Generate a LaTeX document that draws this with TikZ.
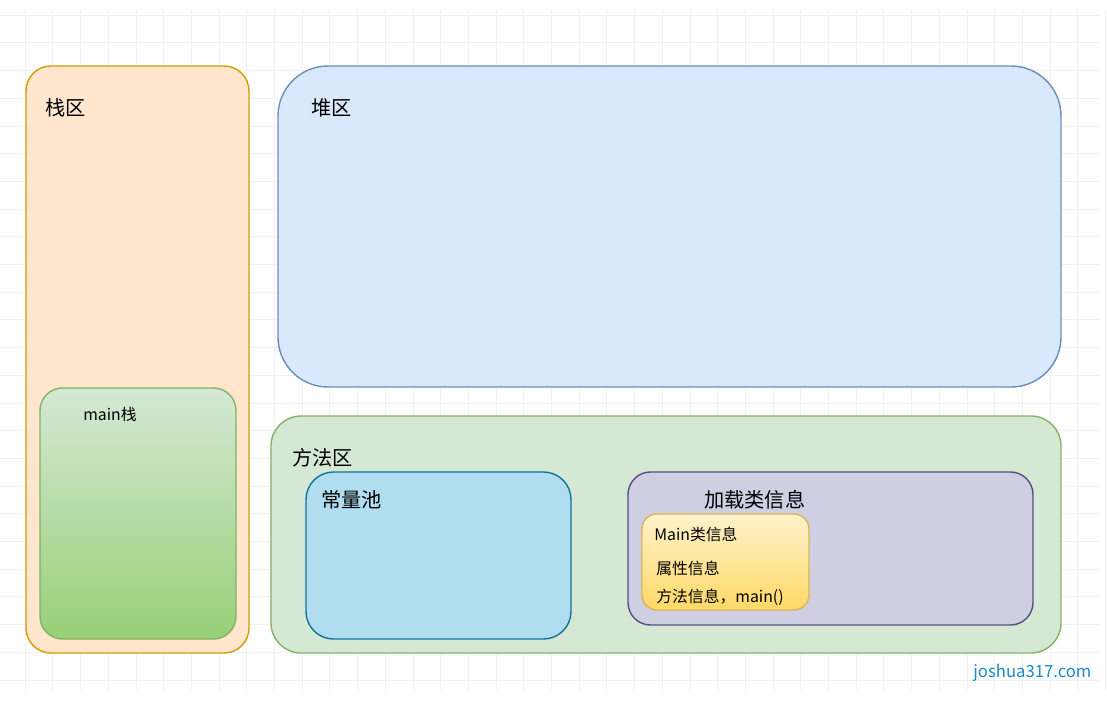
\documentclass[tikz,border=0pt]{standalone}
\usepackage{fontspec}
\setmainfont{Noto Sans CJK SC}
\definecolor{stackfill}{HTML}{FFE6CC}
\definecolor{stackline}{HTML}{D79B00}
\definecolor{heapfill}{HTML}{DAE8FC}
\definecolor{heapline}{HTML}{6C8EBF}
\definecolor{greenfill}{HTML}{D5E8D4}
\definecolor{greenline}{HTML}{82B366}
\definecolor{greendeep}{HTML}{97D077}
\definecolor{poolfill}{HTML}{B1DDF0}
\definecolor{poolline}{HTML}{10739E}
\definecolor{classfill}{HTML}{D0CEE2}
\definecolor{classline}{HTML}{56517E}
\definecolor{yellowtop}{HTML}{FFF2CC}
\definecolor{yellowbot}{HTML}{FFD966}
\definecolor{yellowline}{HTML}{D6B656}
\definecolor{marktext}{HTML}{1A8BC4}
\tikzset{
  area/.style={draw, line width=0.8pt, rounded corners=#1},
  big/.style={font=\fontsize{11.5}{13}\selectfont, anchor=west, inner sep=0pt},
  small/.style={font=\fontsize{9}{11}\selectfont, anchor=west, inner sep=0pt}
}
\begin{document}
\begin{tikzpicture}[x=0.02cm, y=-0.02cm]
 \useasboundingbox (0,0) rectangle (1107,713);
 \fill[white] (0,0) rectangle (1107,713);
 % grid
 \foreach \i in {0,...,39} {
   \draw[black!6, line width=0.3pt] (\i*27.7+25,10) -- (\i*27.7+25,690);
 }
 \foreach \j in {0,...,24} {
   \draw[black!6, line width=0.3pt] (0,\j*27.7+15) -- (1100,\j*27.7+15);
 }

 \draw[area=0.5cm, stackline, fill=stackfill] (26,66) rectangle (249,653);
 \node[big] (stack) at (45,108) {栈区};
 \draw[area=0.45cm, greenline, top color=greenfill, bottom color=greendeep] (40,388) rectangle (236,639);
 \node[small] (mainstack) at (83,414) {main栈};

 \draw[area=1cm, heapline, fill=heapfill] (278,66) rectangle (1061,387);
 \node[big] (heap) at (311,108) {堆区};

 \draw[area=0.6cm, greenline, fill=greenfill] (271,416) rectangle (1061,653);
 \node[big] (method) at (292,458) {方法区};

 \draw[area=0.55cm, poolline, fill=poolfill] (306,472) rectangle (571,639);
 \node[big] (pool) at (321,500) {常量池};

 \draw[area=0.45cm, classline, fill=classfill] (628,472) rectangle (1033,625);
 \node[big] (load) at (704,500) {加载类信息};

 \draw[area=0.3cm, yellowline, top color=yellowtop, bottom color=yellowbot] (642,514) rectangle (809,610);
 \node[small] (mainclass) at (654,534) {Main类信息};
 \node[small] (attr) at (656,568) {属性信息};
 \node[small] (meth) at (656,597) {方法信息，main()};

 \node[small, marktext, font=\fontsize{9.5}{11}\selectfont] (mark) at (973,673) {joshua317.com};
\end{tikzpicture}
\end{document}
